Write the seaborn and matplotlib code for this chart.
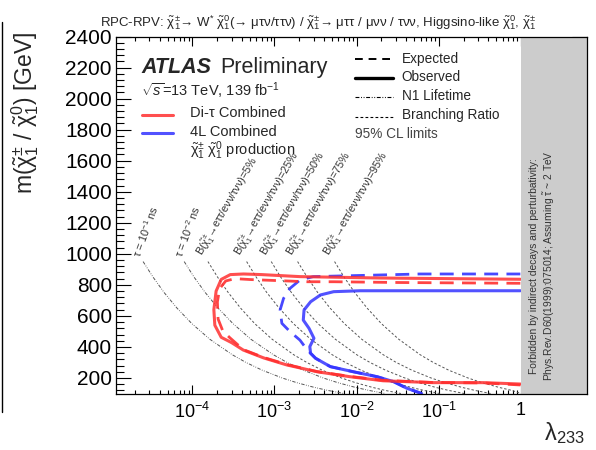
import numpy as np
import pandas as pd
import matplotlib
matplotlib.use("Agg")
import matplotlib.pyplot as plt
import seaborn as sns
from matplotlib.lines import Line2D
from matplotlib.ticker import FixedLocator, FuncFormatter, MultipleLocator, LogLocator, NullFormatter

sns.set_style("ticks")
plt.rcParams["font.family"] = ["Liberation Sans", "DejaVu Sans"]
plt.rcParams["mathtext.fontset"] = "custom"
plt.rcParams["mathtext.rm"] = "Liberation Sans"
plt.rcParams["mathtext.it"] = "Liberation Sans:italic"
plt.rcParams["mathtext.bf"] = "Liberation Sans:bold"

# ---------------- data ----------------
red_obs_lam = [0.98, 0.138, 0.0195, 2.04e-3, 7.0e-4, 4.2e-4, 2.9e-4, 2.25e-4, 1.95e-4, 1.83e-4, 1.88e-4,
               2.25e-4, 3.0e-4, 4.17e-4, 7.41e-4, 1.41e-3, 3.31e-3, 8.32e-3, 0.0209, 0.0851, 0.347, 0.98]
red_obs_m = [836, 840, 844, 853, 866, 870, 866, 835, 760, 640, 540,
             462, 428, 380, 329, 284, 240, 208, 182, 170, 170, 161]

red_exp_lam = [0.98, 0.0339, 5.25e-3, 2.51e-3, 5.13e-4, 3.3e-4, 2.55e-4, 2.15e-4, 2.02e-4, 2.06e-4,
               2.35e-4, 2.88e-4, 4.17e-4, 7.41e-4, 1.41e-3, 3.31e-3, 8.32e-3, 0.0209, 0.0851, 0.347, 0.98]
red_exp_m = [810, 815, 820, 820, 834, 840, 825, 775, 690, 580,
             503, 458, 383, 332, 287, 241, 210, 185, 171, 168, 155]

blue_obs_lam = [0.98, 0.105, 0.011, 5.25e-3, 3.63e-3, 2.75e-3, 2.29e-3, 2.24e-3, 2.63e-3, 3.02e-3,
                2.69e-3, 2.75e-3, 3.16e-3, 4.79e-3, 9.12e-3, 0.0178, 0.0282, 0.0407, 0.0617]
blue_obs_m = [762, 762, 762, 756, 735, 691, 638, 573, 520, 456,
              402, 359, 327, 273, 240, 208, 176, 134, 100]

blue_exp_lam = [0.98, 0.0589, 2.95e-3, 2.04e-3, 1.55e-3, 1.29e-3, 1.17e-3, 1.23e-3, 1.55e-3, 2.04e-3,
                2.51e-3, 2.75e-3, 3.16e-3, 4.79e-3, 9.12e-3, 0.0178, 0.0282, 0.0407, 0.0617]
blue_exp_m = [870, 870, 853, 831, 778, 713, 638, 552, 498, 444,
              380, 359, 327, 273, 240, 208, 176, 134, 100]

guide_m = [950, 850, 750, 650, 550, 450, 350, 300, 250, 200, 170, 140, 120, 100]
tau_01ns_lam = [2.52e-5, 3.33e-5, 4.55e-5, 6.52e-5, 9.89e-5, 1.63e-4, 3.06e-4, 4.50e-4, 7.10e-4,
                1.24e-3, 1.86e-3, 3.02e-3, 4.45e-3, 7.02e-3]
tau_001ns_lam = [7.97e-5, 1.05e-4, 1.44e-4, 2.06e-4, 3.13e-4, 5.15e-4, 9.68e-4, 1.42e-3, 2.25e-3,
                 3.92e-3, 5.88e-3, 9.55e-3, 0.0141, 0.0222]
br05_lam = [1.55e-4, 2.03e-4, 2.74e-4, 3.87e-4, 5.76e-4, 9.34e-4, 1.71e-3, 2.47e-3, 3.82e-3,
            6.53e-3, 9.64e-3, 0.0154, 0.0222, 0.0345]
br25_lam = [4.58e-4, 5.99e-4, 8.07e-4, 1.14e-3, 1.70e-3, 2.75e-3, 5.03e-3, 7.28e-3, 0.0113,
            0.0193, 0.0284, 0.0454, 0.0656, 0.102]
br50_lam = [9.13e-4, 1.19e-3, 1.61e-3, 2.27e-3, 3.39e-3, 5.49e-3, 0.0100, 0.0145, 0.0225,
            0.0385, 0.0567, 0.0905, 0.131, 0.203]
br75_lam = [1.91e-3, 2.50e-3, 3.36e-3, 4.75e-3, 7.09e-3, 0.0115, 0.0210, 0.0303, 0.0470,
            0.0803, 0.119, 0.189, 0.274, 0.425]
br95_lam = [5.38e-3, 7.03e-3, 9.48e-3, 0.0134, 0.0200, 0.0324, 0.0591, 0.0855, 0.132,
            0.226, 0.334, 0.533, 0.771, 1.0]

tau_labels = [r"τ = 10$^{-1}$ ns", r"τ = 10$^{-2}$ ns"]
tau_label_lam = [2.5e-5, 8.2e-5]
br_values = ["5%", "25%", "50%", "75%", "95%"]
br_label_lam = [1.50e-4, 4.40e-4, 9.0e-4, 1.88e-3, 5.3e-3]
label_m = 965

x_major = [1e-4, 1e-3, 1e-2, 1e-1, 1]
x_major_labels = [r"10$^{-4}$", r"10$^{-3}$", r"10$^{-2}$", r"10$^{-1}$", "1"]
y_major = [200, 400, 600, 800, 1000, 1200, 1400, 1600, 1800, 2000, 2200, 2400]

CHI = r"\tilde{\mathrm{\chi}}"
CPM = "$" + CHI + r"^{\pm}_{1}$"
C0 = "$" + CHI + r"^{0}_{1}$"

# ---------------- figure ----------------
W, H = 596, 450
fig = plt.figure(figsize=(W / 100, H / 100), dpi=100)
ax = fig.add_axes([116 / W, 1 - 393.5 / H, (587 - 116) / W, (393.5 - 36.5) / H])
ax.set_xscale("log")
ax.set_xlim(1.18e-5, 6.34)
ax.set_ylim(100, 2400)

def draw(lam, m, color, lw, dashes=None, alpha=1.0, z=2):
    df = pd.DataFrame({"lam": lam, "m": m})
    sns.lineplot(data=df, x="lam", y="m", sort=False, estimator=None, ax=ax,
                 color=color, lw=lw, alpha=alpha, zorder=z, legend=False)
    ln = ax.lines[-1]
    if dashes is not None:
        ln.set_dashes(dashes)
    return ln

gcol = "#555555"
ddot = [3.5, 1.5, 0.8, 1.5, 0.8, 1.5]
for lam in [tau_01ns_lam, tau_001ns_lam]:
    draw(lam, guide_m, gcol, 0.7, dashes=ddot, z=1.8)
for lam in [br05_lam, br25_lam, br50_lam, br75_lam, br95_lam]:
    draw(lam, guide_m, gcol, 0.7, dashes=[2.5, 2.0], z=1.8)

red = "#ff3030"
blue = "#3434ff"
draw(red_obs_lam, red_obs_m, red, 2.2, alpha=0.85, z=2.05)
draw(red_exp_lam, red_exp_m, red, 2.0, dashes=[5, 3], alpha=0.9, z=2.05)
draw(blue_obs_lam, blue_obs_m, blue, 2.2, alpha=0.85, z=2.0)
draw(blue_exp_lam, blue_exp_m, blue, 2.0, dashes=[5, 3], alpha=0.9, z=2.0)

# forbidden region
ax.axvspan(1.0, 6.34, color="#cccccc", lw=0, zorder=2.2)
ax.text(1.42, 921, "Forbidden by indirect decays and perturbativity:", rotation=90,
        ha="center", va="center", fontsize=7.4, color="#333333", zorder=3)
ax.text(2.2, 921, "Phys.Rev.D60(1999):075014; Assuming " + r"$\tilde{\mathrm{\tau}}$" + " ~ 2 TeV", rotation=90,
        ha="center", va="center", fontsize=7.4, color="#333333", zorder=3)

# guide-line labels
for s, lx in zip(tau_labels, tau_label_lam):
    ax.text(lx, label_m, s, rotation=70, rotation_mode="anchor", ha="left", va="bottom",
            fontsize=7.8, color="#333333")
for v, lx in zip(br_values, br_label_lam):
    s = "B(" + CPM + "→eττ/eνν/τνν)=" + v
    ax.text(lx, label_m, s, rotation=60, rotation_mode="anchor", ha="left", va="bottom",
            fontsize=7.8, color="#333333")

# axes ticks
lab_map = dict(zip(x_major, x_major_labels))
ax.xaxis.set_major_locator(FixedLocator(x_major))
ax.xaxis.set_major_formatter(FuncFormatter(lambda v, p: lab_map.get(v, "")))
ax.xaxis.set_minor_locator(LogLocator(base=10, subs=np.arange(2, 10), numticks=20))
ax.xaxis.set_minor_formatter(NullFormatter())
ax.yaxis.set_major_locator(FixedLocator(y_major))
ax.yaxis.set_minor_locator(MultipleLocator(40))
ax.tick_params(which="both", direction="in", top=True, right=True, colors="black", width=0.8)
ax.tick_params(axis="x", which="major", length=6.5, labelsize=13, pad=6)
ax.tick_params(axis="x", which="minor", length=3)
ax.tick_params(axis="y", which="major", length=10.8, labelsize=15, pad=3)
ax.tick_params(axis="y", which="minor", length=5.4)
for sp in ax.spines.values():
    sp.set_linewidth(0.9)
    sp.set_color("black")
    sp.set_zorder(3)
ax.set_xlabel("")
ax.set_ylabel("")

def ftext(px, py, s, **kw):
    return fig.text(px / W, 1 - py / H, s, **kw)

def fline(x0, x1, py, **kw):
    fig.add_artist(Line2D([x0 / W, x1 / W], [1 - py / H, 1 - py / H], transform=fig.transFigure, **kw))

ftext(25, 32, "m(" + CPM + " / " + C0 + ") [GeV]", rotation=90,
      ha="center", va="top", fontsize=16.5)
ftext(585, 440, r"λ$_{233}$", ha="right", va="baseline", fontsize=17)

ftext(100, 26, "RPC-RPV: " + CPM + "→ W$^{*}$ " + C0 + "(→ μτν/ττν) / " + CPM
      + "→ μττ / μνν / τνν, Higgsino-like " + C0 + ", " + CPM,
      ha="left", va="baseline", fontsize=9.5)

ftext(141.7, 73.3, "ATLAS", fontsize=15.5, weight="bold", style="italic", va="baseline")
ftext(220, 73.3, "Preliminary", fontsize=15.5, va="baseline")
ftext(141, 96, r"$\sqrt{s}$=13 TeV, 139 fb$^{-1}$", fontsize=10.5, va="baseline")
fline(141.7, 173.3, 114.5, color=red, lw=2.2, alpha=0.85)
ftext(190, 117.3, "Di-τ Combined", fontsize=10.5, va="baseline")
fline(141.7, 173.3, 133.3, color=blue, lw=2.2, alpha=0.85)
ftext(190, 136.0, "4L Combined", fontsize=10.5, va="baseline")
ftext(190, 155.0, CPM + " " + C0 + " production", fontsize=10.5, va="baseline")

fline(355, 393, 59, color="black", lw=1.4, dashes=[4, 3])
ftext(401.7, 62.7, "Expected", fontsize=9.8, va="baseline")
fline(355, 393, 78.3, color="black", lw=2.4)
ftext(401.7, 81, "Observed", fontsize=9.8, va="baseline")
fline(355, 393, 97.3, color="black", lw=0.8, dashes=ddot)
ftext(401.7, 100, "N1 Lifetime", fontsize=9.8, va="baseline")
fline(355, 393, 116.7, color="black", lw=0.8, dashes=[2.5, 2])
ftext(401.7, 119, "Branching Ratio", fontsize=9.8, va="baseline")
ftext(355, 137.7, "95% CL limits", fontsize=9.8, va="baseline", color="#444444")

fig.add_artist(Line2D([1.5 / W, 1.5 / W], [1 - 22 / H, 1 - 412 / H], transform=fig.transFigure,
                      color="black", lw=1.0))

fig.savefig("out.png", dpi=100)
